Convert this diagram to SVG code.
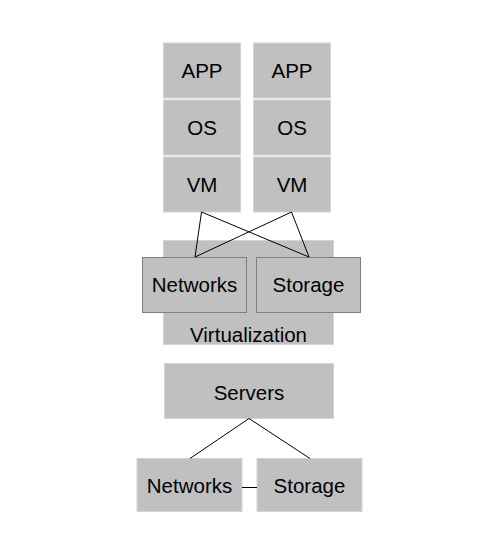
<svg xmlns="http://www.w3.org/2000/svg" width="490" height="545" viewBox="0 0 490 545">
<style>
.box{fill:#c0c0c0;stroke:#d4d4d4;stroke-width:1}
.inner{fill:#c0c0c0;stroke:#7f7f7f;stroke-width:1}
.t{font-family:"Liberation Sans",Arial,sans-serif;font-size:20.5px;fill:#000;text-anchor:middle}
.ln{stroke:#000;stroke-width:1;fill:none}
</style>
<rect width="490" height="545" fill="#fff"/>
<g id="app1"><rect class="box" x="163.5" y="43" width="77" height="55"/><text class="t" x="202" y="78">APP</text></g>
<g id="os1"><rect class="box" x="163.5" y="100" width="77" height="55"/><text class="t" x="202" y="135">OS</text></g>
<g id="vm1"><rect class="box" x="163.5" y="157" width="77" height="55"/><text class="t" x="202" y="192">VM</text></g>
<g id="app2"><rect class="box" x="253.5" y="43" width="77" height="55"/><text class="t" x="292" y="78">APP</text></g>
<g id="os2"><rect class="box" x="253.5" y="100" width="77" height="55"/><text class="t" x="292" y="135">OS</text></g>
<g id="vm2"><rect class="box" x="253.5" y="157" width="77" height="55"/><text class="t" x="292" y="192">VM</text></g>
<g id="virtualization"><rect class="box" x="163.5" y="240.5" width="170" height="104"/><text class="t" x="248.5" y="342">Virtualization</text></g>
<g id="vnetworks"><rect class="inner" x="142.5" y="257.5" width="104" height="55"/><text class="t" x="194.5" y="292">Networks</text></g>
<g id="vstorage"><rect class="inner" x="256.5" y="257.5" width="104" height="55"/><text class="t" x="308.5" y="292">Storage</text></g>
<g id="servers"><rect class="box" x="164.5" y="363.5" width="169" height="55"/><text class="t" x="249" y="400">Servers</text></g>
<g id="networks"><rect class="box" x="137" y="458.5" width="105" height="53"/><text class="t" x="189.5" y="493">Networks</text></g>
<g id="storage"><rect class="box" x="257" y="458.5" width="105" height="53"/><text class="t" x="309.5" y="493">Storage</text></g>
<g id="connectors">
<line class="ln" x1="201.5" y1="212" x2="195" y2="257"/>
<line class="ln" x1="201.5" y1="212" x2="309" y2="257"/>
<line class="ln" x1="291.5" y1="212" x2="195" y2="257"/>
<line class="ln" x1="291.5" y1="212" x2="309" y2="257"/>
<line class="ln" x1="249" y1="418.5" x2="190" y2="458.5"/>
<line class="ln" x1="249" y1="418.5" x2="310" y2="458.5"/>
<line class="ln" x1="242" y1="487.5" x2="257" y2="487.5"/>
</g>
</svg>
